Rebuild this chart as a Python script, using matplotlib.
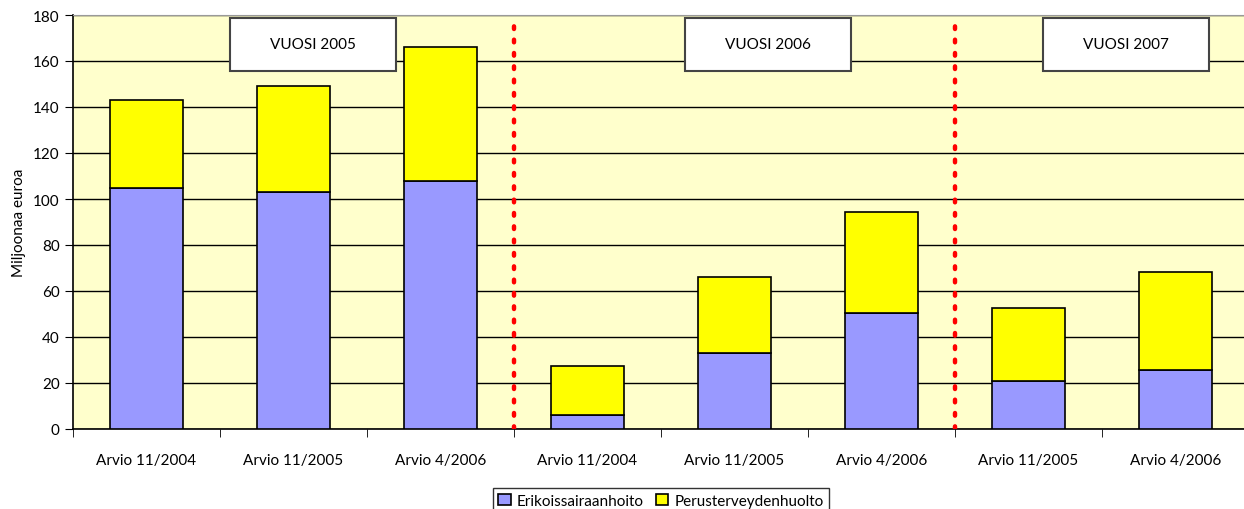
import matplotlib.pyplot as plt
from matplotlib.patches import Rectangle

plt.rcParams["font.family"] = ["Lato", "DejaVu Sans"]

CATEGORIES = [
    "Arvio 11/2004", "Arvio 11/2005", "Arvio 4/2006",
    "Arvio 11/2004", "Arvio 11/2005", "Arvio 4/2006",
    "Arvio 11/2005", "Arvio 4/2006",
]
ERIKOIS = [105, 103, 108, 6, 33, 50.5, 21, 25.7]
PERUS = [38, 46, 58, 21.5, 33, 44, 31.7, 42.6]
YEAR_LABELS = ["VUOSI 2005", "VUOSI 2006", "VUOSI 2007"]
YEAR_BOX_X = [0.57, 3.66, 6.10]
SEPARATORS = [2.5, 5.5]

fig = plt.figure(figsize=(12.44, 5.10), dpi=100)
ax = fig.add_axes([73 / 1244, 80 / 510, 1176 / 1244, 414 / 510])
ax.set_facecolor("#ffffcc")

x = list(range(len(CATEGORIES)))
ax.bar(x, ERIKOIS, width=0.5, color="#9999ff", edgecolor="black",
       linewidth=1.2, label="Erikoissairaanhoito", zorder=3)
ax.bar(x, PERUS, width=0.5, bottom=ERIKOIS, color="#ffff00",
       edgecolor="black", linewidth=1.2, label="Perusterveydenhuolto", zorder=3)

ax.set_xlim(-0.5, len(CATEGORIES) - 0.5)
ax.set_ylim(0, 180)
ax.set_yticks(range(0, 181, 20))
ax.yaxis.grid(True, color="black", linewidth=1)
ax.set_axisbelow(True)

ax.set_xticks(x)
ax.set_xticklabels(CATEGORIES, fontsize=11)
ax.tick_params(axis="x", which="major", length=0, pad=17)
ax.set_xticks([i + 0.5 for i in range(-1, len(CATEGORIES))], minor=True)
ax.tick_params(axis="x", which="minor", length=6, direction="out")
ax.tick_params(axis="y", labelsize=11, length=6, direction="out")
ax.set_ylabel("Miljoonaa euroa", fontsize=11, labelpad=5)

for side in ["top", "right"]:
    ax.spines[side].set_color("#999999")
ax.spines["left"].set_linewidth(1.2)
ax.spines["bottom"].set_linewidth(1.2)

for sx in SEPARATORS:
    ax.plot([sx, sx], [0, 176], color="red", linestyle=(0, (0.6, 2.4)),
            linewidth=3.2, dash_capstyle="round", zorder=4)

for bx, text in zip(YEAR_BOX_X, YEAR_LABELS):
    ax.add_patch(Rectangle((bx, 155.7), 1.13, 23, facecolor="white",
                           edgecolor="#444444", linewidth=1.5, zorder=5))
    ax.text(bx + 0.565, 167.2, text, ha="center", va="center",
            fontsize=11, zorder=6)

leg = ax.legend(loc="upper center", bbox_to_anchor=(0.5, -0.125), ncol=2,
                frameon=True, fancybox=False, edgecolor="black",
                fontsize=11, handlelength=0.8, handleheight=0.8,
                handletextpad=0.4, columnspacing=0.8, borderpad=0.35)
leg.get_frame().set_linewidth(1)

fig.savefig("out.png", dpi=100)
